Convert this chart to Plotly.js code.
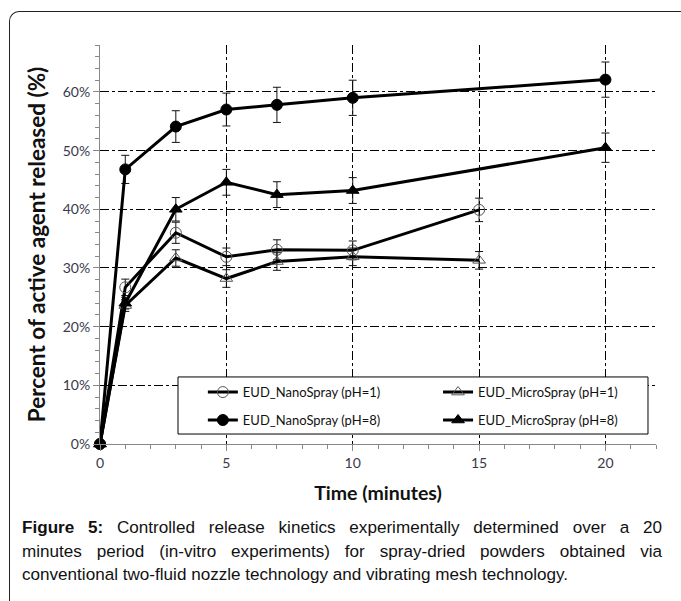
<!DOCTYPE html>
<html>
<head>
<meta charset="utf-8">
<script src="https://cdn.plot.ly/plotly-3.0.1.min.js"></script>
<style>
  html, body { margin:0; padding:0; background:#fff; }
  #wrap { position:relative; width:681px; height:601px; overflow:hidden; background:#fff; }
  #frame { position:absolute; left:9px; top:11px; width:700px; height:620px;
           border-left:1.3px solid #222; border-top:1.3px solid #222; border-top-left-radius:10px; pointer-events:none; }
  #chart { position:absolute; left:0; top:0; width:681px; height:601px; }
  #caption { position:absolute; left:22px; top:516px; width:640px; font-family:"Liberation Sans", Arial, sans-serif;
             font-size:17.1px; line-height:23.5px; color:#111; }
  #caption .j { display:block; text-align:justify; text-align-last:justify; white-space:nowrap; }
  #caption .l { display:block; text-align:left; white-space:nowrap; }
</style>
</head>
<body>
<div id="wrap">
  <div id="chart"></div>
  <div id="frame"></div>
  <div id="caption"><span class="j"><b>Figure 5:</b> Controlled release kinetics experimentally determined over a 20</span><span class="j">minutes period (in-vitro experiments) for spray-dried powders obtained via</span><span class="l">conventional two-fluid nozzle technology and vibrating mesh technology.</span></div>
</div>
<script>
// Time points (minutes)
const timeNanoPH1  = [0, 1, 3, 5, 7, 10, 15];
const timeMicroPH1 = [0, 1, 3, 5, 7, 10, 15];
const timeNanoPH8  = [0, 1, 3, 5, 7, 10, 20];
const timeMicroPH8 = [0, 1, 3, 5, 7, 10, 20];

// Percent released
const nanoPH1  = [0, 26.7, 36.0, 31.9, 33.1, 33.0, 39.9];
const microPH1 = [0, 23.6, 31.7, 28.2, 31.1, 31.9, 31.3];
const nanoPH8  = [0, 46.8, 54.1, 57.0, 57.8, 59.0, 62.1];
const microPH8 = [0, 24.0, 40.0, 44.6, 42.5, 43.2, 50.5];

// Error bars (+/-)
const errNanoPH1  = [0, 1.4, 1.8, 1.5, 1.7, 1.6, 2.0];
const errMicroPH1 = [0, 1.0, 1.4, 1.5, 1.5, 1.5, 1.5];
const errNanoPH8  = [0, 2.4, 2.7, 2.8, 3.0, 3.0, 3.0];
const errMicroPH8 = [0, 1.0, 2.0, 2.2, 2.2, 2.2, 2.5];

const names = ["EUD_NanoSpray (pH=1)", "EUD_MicroSpray (pH=1)", "EUD_NanoSpray (pH=8)", "EUD_MicroSpray (pH=8)"];

const yTickVals = [0, 10, 20, 30, 40, 50, 60];
const yTickText = ["0%", "10%", "20%", "30%", "40%", "50%", "60%"];
const xTickVals = [0, 5, 10, 15, 20];

function tr(x, y, e, name, symbol, mcolor, legendId) {
  return {
    x: x, y: y, name: name, type: 'scatter', mode: 'lines+markers', legend: legendId, cliponaxis: false,
    line: {color: '#000', width: 3},
    marker: {symbol: symbol, size: 11, color: mcolor, line: {color: mcolor, width: 1}},
    error_y: {type: 'data', array: e, visible: true, color: '#111', thickness: 1, width: 4}
  };
}

const data = [
  tr(timeNanoPH1, nanoPH1, errNanoPH1, names[0], 'circle-open', '#555', 'legend'),
  tr(timeMicroPH1, microPH1, errMicroPH1, names[1], 'triangle-up-open', '#555', 'legend2'),
  tr(timeNanoPH8, nanoPH8, errNanoPH8, names[2], 'circle', '#000', 'legend3'),
  tr(timeMicroPH8, microPH8, errMicroPH8, names[3], 'triangle-up', '#000', 'legend4')
];

const tickFont = {family: 'Lato, "Open Sans", sans-serif', size: 14, color: '#3a3a4a'};
const legFont = {family: 'Lato, "Open Sans", sans-serif', size: 13, color: '#111'};

function legendAt(xPaper, yPaper) {
  return {
    x: xPaper, y: yPaper, xanchor: 'left', yanchor: 'middle',
    orientation: 'h', bgcolor: 'rgba(0,0,0,0)', borderwidth: 0,
    font: legFont, itemwidth: 30
  };
}

const layout = {
  width: 681, height: 601,
  margin: {l: 100, r: 25, t: 45, b: 157},
  paper_bgcolor: 'rgba(0,0,0,0)', plot_bgcolor: 'rgba(0,0,0,0)',
  showlegend: true,
  legend: legendAt(0.185, 0.130),
  legend2: legendAt(0.608, 0.130),
  legend3: legendAt(0.185, 0.060),
  legend4: legendAt(0.608, 0.060),
  shapes: [{
    type: 'rect', xref: 'paper', yref: 'paper', x0: 0.1403, x1: 0.9856, y0: 0.025, y1: 0.168,
    fillcolor: '#fff', line: {color: '#000', width: 1}, layer: 'above'
  }],
  xaxis: {
    range: [0, 22], tickvals: xTickVals, ticks: 'outside', ticklen: 6, tickcolor: '#888',
    showline: true, linecolor: '#888', linewidth: 1, zeroline: false,
    showgrid: true, gridcolor: '#000', gridwidth: 1, griddash: 'dashdot',
    minor: {dtick: 1, tick0: 0, ticks: 'outside', ticklen: 4, tickcolor: '#888', showgrid: false},
    tickfont: tickFont,
    title: {text: '<b>Time (minutes)</b>', font: {family: 'Lato, "Open Sans", sans-serif', size: 19.5, color: '#111'}, standoff: 16}
  },
  yaxis: {
    range: [0, 68], tickvals: yTickVals, ticktext: yTickText, ticks: 'outside', ticklen: 6, tickcolor: '#888',
    showline: true, linecolor: '#888', linewidth: 1, zeroline: false,
    showgrid: true, gridcolor: '#000', gridwidth: 1, griddash: 'dashdot',
    minor: {dtick: 2, tick0: 0, ticks: 'outside', ticklen: 4, tickcolor: '#888', showgrid: false},
    tickfont: tickFont,
    title: {text: '<b>Percent of active agent released (%)</b>', font: {family: 'Lato, "Open Sans", sans-serif', size: 22.5, color: '#111'}, standoff: 10}
  }
};

Plotly.newPlot('chart', data, layout, {displayModeBar: false, staticPlot: true});
</script>
</body>
</html>
